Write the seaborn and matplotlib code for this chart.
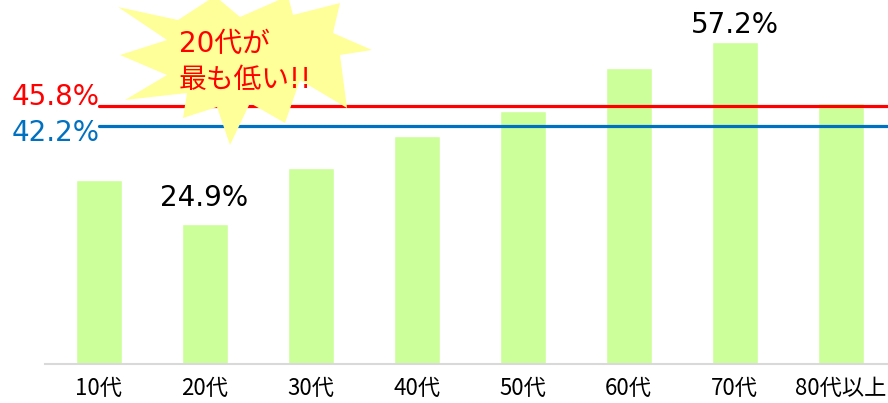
import matplotlib
matplotlib.use("Agg")
import matplotlib.pyplot as plt
from matplotlib.patches import Polygon
import numpy as np
import seaborn as sns

# data
age_groups = ["10代", "20代", "30代", "40代", "50代", "60代", "70代", "80代以上"]
rates = [32.7, 24.9, 34.8, 40.5, 44.9, 52.5, 57.2, 46.4]
overall_rate = 45.8
twenties_rate = 42.2
labelled = {1: "24.9%", 6: "57.2%"}
callout = ["20代が", "最も低い!!"]

sns.set_style("white")
plt.rcParams["font.family"] = ["Noto Sans CJK JP", "DejaVu Sans"]
num_font = ["DejaVu Sans", "Noto Sans CJK JP"]

W, H = 888, 403
fig = plt.figure(figsize=(W / 100, H / 100), dpi=100)
ax = fig.add_axes([45.5 / W, 1 - 364 / H, 1 - 45.5 / W, 364 / H])

sns.barplot(x=age_groups, y=rates, color="#CCFF99", saturation=1,
            width=0.434, ax=ax, zorder=1)

ax.set_xlim(-0.5, 7.445)
ax.set_ylim(0, 64.6)

# reference lines (start a little left of the first bar)
x0 = 100 / W
ax.axhline(overall_rate, xmin=0.064, xmax=1, color="#FF0000", lw=2.3, zorder=2)
ax.axhline(twenties_rate, xmin=0.064, xmax=1, color="#0070C0", lw=2.3, zorder=2)
ax.annotate(f"{overall_rate}%", (0.064, overall_rate), xycoords=("axes fraction", "data"),
            xytext=(0, 0.5), textcoords="offset points", color="#FF0000", fontsize=20,
            family=num_font, ha="right", va="baseline", annotation_clip=False)
ax.annotate(f"{twenties_rate}%", (0.064, twenties_rate), xycoords=("axes fraction", "data"),
            xytext=(0, -10.5), textcoords="offset points", color="#0070C0", fontsize=20,
            family=num_font, ha="right", va="baseline", annotation_clip=False)

# value labels
offsets = {1: 13, 6: 6.5}
for i, txt in labelled.items():
    ax.annotate(txt, (i, rates[i]), xytext=(0, offsets[i]), textcoords="offset points",
                ha="center", va="baseline", fontsize=20, family=num_font, color="black")

# starburst callout (outline traced in pixels from the top-left corner)
star_px = np.array([(118, 7), (178, 20), (215, -4), (240, 17), (288, -4), (293, 15),
                    (340, 3), (333, 33), (372, 50), (340, 55), (347, 108), (300, 80),
                    (285, 123), (250, 103), (230, 145), (217, 107), (183, 118), (187, 93),
                    (125, 100), (167, 75), (120, 55), (167, 40)], dtype=float)
star_fig = np.column_stack([star_px[:, 0] / W, 1 - star_px[:, 1] / H])
star = Polygon(star_fig, closed=True, facecolor="#FFFF99", edgecolor="none",
               transform=fig.transFigure, clip_on=False, zorder=3)
ax.add_patch(star)
fig.text(179 / W, 1 - 52 / H, callout[0], color="#FF0000", fontsize=20, family=num_font,
         ha="left", va="baseline", zorder=4)
fig.text(179 / W, 1 - 88 / H, callout[1], color="#FF0000", fontsize=20, family=num_font,
         ha="left", va="baseline", zorder=4)

# axes styling
sns.despine(ax=ax, left=True)
ax.spines["bottom"].set_color("#D9D9D9")
ax.spines["bottom"].set_linewidth(1.5)
ax.set_yticks([])
ax.set_xlabel("")
ax.set_ylabel("")
ax.tick_params(axis="x", length=0, pad=9, labelsize=16, colors="black")

fig.savefig("out.png", dpi=100)
